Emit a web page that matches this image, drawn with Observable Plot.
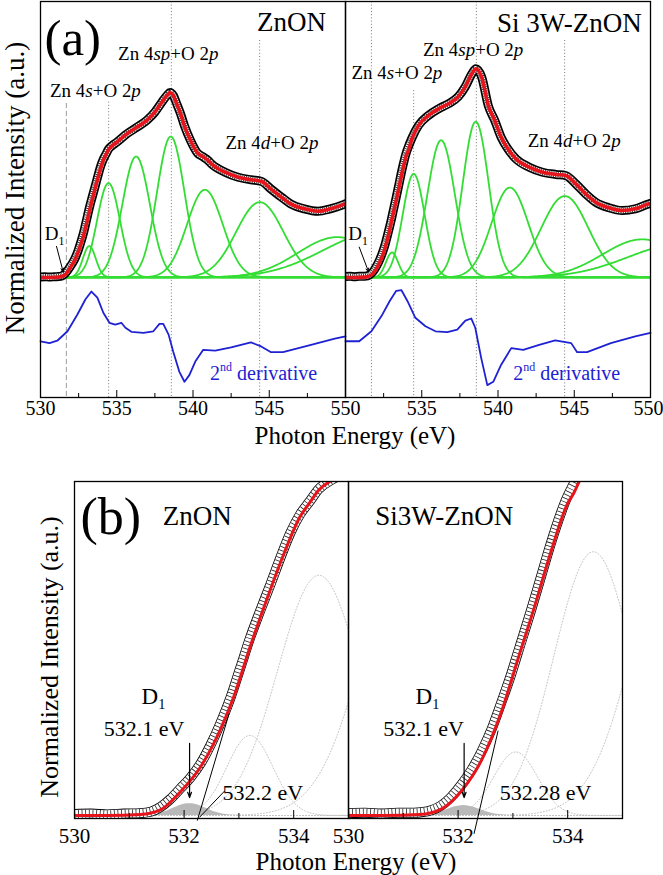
<!DOCTYPE html>
<html><head><meta charset="utf-8">
<script src="https://cdn.jsdelivr.net/npm/d3@7"></script>
<script src="https://cdn.jsdelivr.net/npm/@observablehq/plot@0.6"></script>
<style>
body{margin:0;background:#fff;}
#root{position:relative;width:663px;height:875px;background:#fff;font-family:'Liberation Serif','DejaVu Serif',serif;color:#000;overflow:hidden;}
#root svg, #root svg text{font-family:'Liberation Serif','DejaVu Serif',serif !important;}
.plot{position:absolute;left:0;}
.title{position:absolute;white-space:nowrap;line-height:1;}
</style></head><body><div id="root"></div>
<script>
// ---------- data ----------
const samples = ["ZnON", "Si 3W-ZnON"];

// measured O K-edge spectra (normalized intensity)
const znonEnergy = [530.0,530.3,530.6,530.9,531.2,531.39,531.57,531.75,531.93,532.12,532.3,532.48,532.66,532.85,533.03,533.21,533.39,533.58,533.76,533.94,534.12,534.3,534.45,534.7,535.0,535.67,536.32,536.97,537.5,537.96,538.3,538.5,538.7,538.95,539.18,539.44,539.84,540.3,540.6,541.0,541.2,542.1,542.96,543.8,544.5,545.1,545.8,546.4,547.3,548.2,549.0,549.9,550.0];
const znonIntensity = [0.003,0.004,0.002,0.004,0.005,0.008,0.018,0.035,0.057,0.081,0.110,0.149,0.195,0.251,0.315,0.379,0.435,0.492,0.548,0.600,0.640,0.668,0.692,0.713,0.731,0.777,0.812,0.849,0.894,0.948,0.985,1.000,0.985,0.935,0.886,0.820,0.740,0.672,0.655,0.632,0.615,0.569,0.542,0.528,0.519,0.479,0.434,0.398,0.371,0.358,0.371,0.395,0.398];
const znonFitEnergy = [530.0,530.6,531.2,531.57,531.93,532.3,532.66,532.9,533.21,533.52,533.82,534.12,534.3,534.45,534.7,535.0,535.67,536.32,536.97,537.5,537.96,538.3,538.5,538.7,538.95,539.18,539.44,539.84,540.3,540.6,541.0,541.2,542.1,542.96,543.8,544.5,545.1,545.8,546.4,547.3,548.2,549.0,549.9,550.0];
const znonFitIntensity = [0.0,0.0,0.002,0.012,0.050,0.103,0.182,0.250,0.360,0.462,0.555,0.635,0.665,0.690,0.712,0.731,0.777,0.812,0.849,0.894,0.948,0.985,1.000,0.985,0.935,0.886,0.820,0.740,0.672,0.655,0.632,0.615,0.569,0.542,0.528,0.519,0.479,0.434,0.398,0.371,0.358,0.371,0.395,0.398];

const siEnergy = [530.0,530.3,530.6,530.9,531.2,531.33,531.51,531.69,531.87,532.05,532.24,532.42,532.6,532.78,532.96,533.15,533.33,533.51,533.69,533.87,533.96,534.07,534.36,534.79,535.44,536.1,536.75,537.4,537.84,538.28,538.55,538.93,539.37,539.8,540.2,540.65,541.18,542.05,542.92,543.8,544.44,545.1,545.75,546.4,547.27,548.15,549.0,549.9,550.0];
const siIntensity = [0.005,0.006,0.004,0.006,0.006,0.007,0.011,0.021,0.039,0.064,0.096,0.134,0.180,0.237,0.297,0.368,0.435,0.506,0.577,0.640,0.668,0.695,0.755,0.822,0.876,0.912,0.939,0.978,1.029,1.100,1.128,1.083,0.927,0.846,0.759,0.695,0.641,0.596,0.569,0.557,0.551,0.506,0.452,0.407,0.377,0.362,0.371,0.398,0.400];
const siFitEnergy = [530.0,530.6,531.3,531.7,532.06,532.43,532.79,533.1,533.4,533.7,534.01,534.1,534.36,534.79,535.44,536.1,536.75,537.4,537.84,538.28,538.55,538.93,539.37,539.8,540.2,540.65,541.18,542.05,542.92,543.8,544.44,545.1,545.75,546.4,547.27,548.15,549.0,549.9,550.0];
const siFitIntensity = [0.0,0.0,0.002,0.014,0.052,0.118,0.220,0.335,0.445,0.562,0.665,0.682,0.750,0.822,0.876,0.912,0.939,0.978,1.029,1.100,1.128,1.083,0.927,0.846,0.759,0.695,0.641,0.596,0.569,0.557,0.551,0.506,0.452,0.407,0.377,0.362,0.371,0.398,0.400];

// 2nd derivative traces (offset below the spectra)
const znonDerivEnergy = [530.0,530.59,531.1,531.77,532.42,532.95,533.34,533.73,534.12,534.52,534.9,535.3,535.57,535.96,536.75,537.4,537.8,538.05,538.4,538.7,539.1,539.44,539.76,540.15,540.67,541.46,542.5,543.8,544.47,545.12,545.9,547.74,549.3,550.0];
const znonDerivValue = [-0.345,-0.355,-0.342,-0.291,-0.200,-0.118,-0.076,-0.109,-0.191,-0.245,-0.255,-0.245,-0.272,-0.294,-0.300,-0.291,-0.251,-0.251,-0.309,-0.400,-0.509,-0.564,-0.528,-0.455,-0.391,-0.396,-0.378,-0.351,-0.373,-0.404,-0.404,-0.364,-0.331,-0.318];
const siDerivEnergy = [530.0,530.9,531.7,532.36,532.9,533.33,533.67,534.06,534.58,535.24,535.9,536.68,537.33,537.86,538.25,538.51,538.9,539.3,539.69,540.2,540.87,541.65,542.7,543.75,544.8,545.19,545.84,547.4,549.0,550.0];
const siDerivValue = [-0.345,-0.345,-0.291,-0.209,-0.127,-0.072,-0.069,-0.127,-0.218,-0.264,-0.291,-0.296,-0.282,-0.233,-0.222,-0.272,-0.436,-0.582,-0.564,-0.473,-0.382,-0.391,-0.364,-0.340,-0.355,-0.404,-0.404,-0.355,-0.318,-0.300];

// Gaussian fit components (center eV, height, sigma eV)
const znonPeakCenter = [533.2,534.46,536.27,538.54,540.78,544.38,549.46,552.0];
const znonPeakHeight = [0.17,0.51,0.654,0.762,0.474,0.407,0.218,0.24];
const znonPeakWidth  = [0.42,0.75,0.9,0.9,1.17,1.55,2.6,3.5];
const siPeakCenter = [533.05,534.47,536.27,538.54,540.78,544.38,549.46,552.0];
const siPeakHeight = [0.135,0.56,0.742,0.842,0.486,0.44,0.206,0.18];
const siPeakWidth  = [0.4,0.72,0.9,0.85,1.2,1.55,2.6,3.5];

// D1 defect state component
const d1Center = [532.1, 532.1];
const d1Height = [0.025, 0.021];
const d1Width  = [0.3, 0.3];

// feature energies marked by guide lines
const guideEnergy = [531.7, 534.47, 538.58, 544.37];

// tick values / labels
const ticksAMajor = [530,535,540,545,550];
const ticksAMinor = [532.5,537.5,542.5,547.5];
const ticksALabelsLeft = [530,535,540,545,550];
const ticksALabelsRight = [535,540,545];
const ticksALabelsRightEdge = [550];
const ticksBMajor = [530,532,534];
const ticksBMinor = [531,533];
const ticksBLabels = [530,532,534];

// ---------- helpers ----------
const SERIF = "'Liberation Serif','DejaVu Serif',serif";
const zip = (sample, xs, ys) => xs.map((x, i) => ({sample, x, y: ys[i]}));
const both = vals => samples.flatMap(s => vals.map(x => ({sample: s, x})));

function components(sample, c, h, w, e0, e1) {
  const out = [];
  c.forEach((ck, k) => {
    for (let i = 0; e0 + i * 0.05 <= e1 + 1e-9; i++) {
      const e = e0 + i * 0.05;
      out.push({sample, comp: sample + k, x: e, y: h[k] * Math.exp(-0.5 * ((e - ck) / w[k]) ** 2)});
    }
  });
  return out;
}

const dataRows = [...zip(samples[0], znonEnergy, znonIntensity), ...zip(samples[1], siEnergy, siIntensity)];
const fitRows = [...zip(samples[0], znonFitEnergy, znonFitIntensity), ...zip(samples[1], siFitEnergy, siFitIntensity)];
const derivRows = [...zip(samples[0], znonDerivEnergy, znonDerivValue), ...zip(samples[1], siDerivEnergy, siDerivValue)];
const compRowsA = [
  ...components(samples[0], znonPeakCenter, znonPeakHeight, znonPeakWidth, 530, 552),
  ...components(samples[1], siPeakCenter, siPeakHeight, siPeakWidth, 530, 552)];
const compRowsB = [
  ...components(samples[0], znonPeakCenter, znonPeakHeight, znonPeakWidth, 530, 536),
  ...components(samples[1], siPeakCenter, siPeakHeight, siPeakWidth, 530, 536)];
const d1Rows = samples.flatMap((s, k) =>
  components(s, [d1Center[k]], [d1Height[k]], [d1Width[k]], 531.0, 533.3));

const yA = [-0.649, 1.492];
const yB = [-0.0064, 0.709];

// data drawn as a band of overlapping open circles (outline + ring hatching)
function bandMarks(rows, outer, inner, hatch, dash, clip) {
  return [
    Plot.line(rows, {fx: "sample", x: "x", y: "y", stroke: "#000", strokeWidth: outer, curve: "monotone-x", strokeLinejoin: "round", strokeLinecap: "round", clip}),
    Plot.line(rows, {fx: "sample", x: "x", y: "y", stroke: "#fff", strokeWidth: inner, curve: "monotone-x", strokeLinejoin: "round", strokeLinecap: "round", clip}),
    Plot.line(rows, {fx: "sample", x: "x", y: "y", stroke: hatch, strokeWidth: inner, curve: "monotone-x", strokeDasharray: dash, strokeLinecap: "butt", strokeLinejoin: "miter", clip})
  ];
}

// ---------- panel (a) ----------
const guideRows = [
  {sample: samples[0], x: guideEnergy[0], top: 0.94, dash: true},
  {sample: samples[0], x: guideEnergy[1], top: 0.948},
  {sample: samples[0], x: guideEnergy[2], top: 1.49},
  {sample: samples[0], x: guideEnergy[3], top: 1.281},
  {sample: samples[1], x: guideEnergy[0], top: 1.49},
  {sample: samples[1], x: guideEnergy[1], top: 1.01},
  {sample: samples[1], x: guideEnergy[2], top: 1.49},
  {sample: samples[1], x: guideEnergy[3], top: 1.281}
];

const plotA = Plot.plot({
  width: 663, height: 455,
  marginLeft: 39, marginRight: 13, marginTop: 1, marginBottom: 58,
  fx: {domain: samples, padding: 0, axis: null},
  x: {domain: [530, 550], axis: null},
  y: {domain: yA, axis: null},
  style: {fontFamily: SERIF, fontSize: "20px", background: "transparent", color: "#000"},
  marks: [
    Plot.ruleX(guideRows.filter(d => !d.dash), {fx: "sample", x: "x", y1: "top", y2: yA[0], stroke: "#777", strokeWidth: 1, strokeDasharray: "1,2.2"}),
    Plot.ruleX(guideRows.filter(d => d.dash), {fx: "sample", x: "x", y1: "top", y2: yA[0], stroke: "#aaa", strokeWidth: 1.2, strokeDasharray: "5,3"}),
    Plot.line(compRowsA, {fx: "sample", x: "x", y: "y", z: "comp", stroke: "#33dd33", strokeWidth: 1.8, clip: true}),
    ...bandMarks(dataRows, 9, 5.6, "#333", "1,1.2", true),
    Plot.line(fitRows, {fx: "sample", x: "x", y: "y", stroke: "#e8141c", strokeWidth: 3.6, curve: "monotone-x", clip: true}),
    Plot.line(derivRows, {fx: "sample", x: "x", y: "y", stroke: "#1e22d2", strokeWidth: 1.8, strokeLinejoin: "round"}),
    Plot.frame({stroke: "#000", strokeWidth: 1.3}),
    Plot.ruleX(both(ticksAMajor), {fx: "sample", x: "x", insetTop: 389, stroke: "#000", strokeWidth: 1}),
    Plot.ruleX(both(ticksAMinor), {fx: "sample", x: "x", insetTop: 392, stroke: "#000", strokeWidth: 1}),
    Plot.text([...ticksALabelsLeft.map(x => ({sample: samples[0], x})), ...ticksALabelsRight.map(x => ({sample: samples[1], x}))],
      {fx: "sample", x: "x", text: d => String(d.x), frameAnchor: "bottom", lineAnchor: "top", dy: 3, fontSize: 20, fill: "#000"}),
    Plot.text(ticksALabelsRightEdge.map(x => ({sample: samples[1], x})),
      {fx: "sample", x: "x", text: d => String(d.x), frameAnchor: "bottom", lineAnchor: "top", dy: 3, dx: -2, fontSize: 20, fill: "#000"}),
    Plot.text([{sample: samples[0], x: 530.26, y: 1.205, t: "(a)"}], {fx: "sample", x: "x", y: "y", text: "t", textAnchor: "start", lineAnchor: "bottom", fontSize: 51, fill: "#000"}),
    Plot.text([{sample: samples[0], x: 548.72, y: 1.335, t: "ZnON"}, {sample: samples[1], x: 549.42, y: 1.325, t: "Si 3W-ZnON"}],
      {fx: "sample", x: "x", y: "y", text: "t", textAnchor: "end", lineAnchor: "bottom", fontSize: 27, fill: "#000"}),
    Plot.text([
      {sample: samples[0], x: 538.38, y: 1.178, t: "Zn 4sp+O 2p"},
      {sample: samples[0], x: 533.6, y: 0.978, t: "Zn 4s+O 2p"},
      {sample: samples[0], x: 545.18, y: 0.697, t: "Zn 4d+O 2p"},
      {sample: samples[1], x: 538.37, y: 1.2, t: "Zn 4sp+O 2p"},
      {sample: samples[1], x: 533.37, y: 1.074, t: "Zn 4s+O 2p"},
      {sample: samples[1], x: 545.0, y: 0.704, t: "Zn 4d+O 2p"}
    ], {fx: "sample", x: "x", y: "y", text: "t", lineAnchor: "bottom", fontSize: 19, fill: "#000", stroke: "#fff", strokeWidth: 3, paintOrder: "stroke"}),
    Plot.text([{sample: samples[0], x: 530.92, y: 0.2, t: "D1"}, {sample: samples[1], x: 530.82, y: 0.2, t: "D1"}],
      {fx: "sample", x: "x", y: "y", text: "t", lineAnchor: "bottom", fontSize: 19, fill: "#000"}),
    Plot.arrow([{sample: samples[0], x1: 531.05, y1: 0.168, x2: 531.49, y2: 0.029}, {sample: samples[1], x1: 530.9, y1: 0.164, x2: 531.52, y2: 0.029}],
      {fx: "sample", x1: "x1", y1: "y1", x2: "x2", y2: "y2", stroke: "#000", strokeWidth: 1, headLength: 6, headAngle: 40}),
    Plot.text([{sample: samples[0], x: 544.63, y: -0.557, t: "2nd derivative"}, {sample: samples[1], x: 544.5, y: -0.557, t: "2nd derivative"}],
      {fx: "sample", x: "x", y: "y", text: "t", lineAnchor: "bottom", fontSize: 20, fill: "#1e22d2"})
  ]
});

// ---------- panel (b) ----------
const plotB = Plot.plot({
  width: 663, height: 405,
  marginLeft: 74, marginRight: 41, marginTop: 11, marginBottom: 57,
  fx: {domain: samples, padding: 0, axis: null},
  x: {domain: [530, 535], axis: null},
  y: {domain: yB, axis: null},
  style: {fontFamily: SERIF, fontSize: "21px", background: "transparent", color: "#000"},
  marks: [
    Plot.line(compRowsB, {fx: "sample", x: "x", y: "y", z: "comp", stroke: "#c4c4c4", strokeWidth: 1, strokeDasharray: "1,2", clip: true}),
    Plot.areaY(d1Rows, {fx: "sample", x: "x", y: "y", fill: "#b9b9b9", clip: true}),
    ...bandMarks(dataRows, 10, 8.4, "#222", "0.8,2.8", true),
    Plot.line(fitRows, {fx: "sample", x: "x", y: "y", stroke: "#e8141c", strokeWidth: 3, curve: "monotone-x", clip: true}),
    Plot.frame({stroke: "#000", strokeWidth: 1.3}),
    Plot.ruleX(both(ticksBMajor), {fx: "sample", x: "x", insetTop: 329, stroke: "#000", strokeWidth: 1}),
    Plot.ruleX(both(ticksBMinor), {fx: "sample", x: "x", insetTop: 332, stroke: "#000", strokeWidth: 1}),
    Plot.text(both(ticksBLabels), {fx: "sample", x: "x", text: d => String(d.x), frameAnchor: "bottom", lineAnchor: "top", dy: 10, fontSize: 21, fill: "#000"}),
    Plot.text([{sample: samples[0], x: 530.11, y: 0.597, t: "(b)"}], {fx: "sample", x: "x", y: "y", text: "t", textAnchor: "start", lineAnchor: "bottom", fontSize: 52, fill: "#000"}),
    Plot.text([{sample: samples[0], x: 531.61, y: 0.616, t: "ZnON"}, {sample: samples[1], x: 530.49, y: 0.616, t: "Si3W-ZnON"}],
      {fx: "sample", x: "x", y: "y", text: "t", textAnchor: "start", lineAnchor: "bottom", fontSize: 27, fill: "#000"}),
    Plot.text([{sample: samples[0], x: 531.44, y: 0.236, t: "D1"}, {sample: samples[1], x: 531.44, y: 0.236, t: "D1"}],
      {fx: "sample", x: "x", y: "y", text: "t", lineAnchor: "bottom", fontSize: 23, fill: "#000"}),
    Plot.text([{sample: samples[0], x: 531.27, y: 0.168, t: "532.1 eV"}, {sample: samples[1], x: 531.37, y: 0.168, t: "532.1 eV"}],
      {fx: "sample", x: "x", y: "y", text: "t", lineAnchor: "bottom", fontSize: 22, fill: "#000"}),
    Plot.text([{sample: samples[0], x: 532.7, y: 0.032, t: "532.2 eV"}, {sample: samples[1], x: 532.76, y: 0.032, t: "532.28 eV"}],
      {fx: "sample", x: "x", y: "y", text: "t", textAnchor: "start", lineAnchor: "bottom", fontSize: 22, fill: "#000"}),
    Plot.arrow([{sample: samples[0], x1: 532.1, y1: 0.153, x2: 532.1, y2: 0.038}, {sample: samples[1], x1: 532.11, y1: 0.153, x2: 532.11, y2: 0.038}],
      {fx: "sample", x1: "x1", y1: "y1", x2: "x2", y2: "y2", stroke: "#000", strokeWidth: 1.2, headLength: 7, headAngle: 40}),
    Plot.link([
      {sample: samples[0], x1: 532.82, y1: 0.216, x2: 532.24, y2: -0.011},
      {sample: samples[0], x1: 532.74, y1: 0.052, x2: 532.28, y2: -0.004},
      {sample: samples[1], x1: 532.73, y1: 0.18, x2: 532.29, y2: -0.039}
    ], {fx: "sample", x1: "x1", y1: "y1", x2: "x2", y2: "y2", stroke: "#000", strokeWidth: 1})
  ]
});

// rich text formatting (italics, sub/superscripts)
function richText(svg) {
  svg.querySelectorAll("text").forEach(t => {
    const s = t.textContent;
    if (s === "Zn 4sp+O 2p") t.innerHTML = 'Zn 4<tspan font-style="italic">sp</tspan>+O 2<tspan font-style="italic">p</tspan>';
    else if (s === "Zn 4s+O 2p") t.innerHTML = 'Zn 4<tspan font-style="italic">s</tspan>+O 2<tspan font-style="italic">p</tspan>';
    else if (s === "Zn 4d+O 2p") t.innerHTML = 'Zn 4<tspan font-style="italic">d</tspan>+O 2<tspan font-style="italic">p</tspan>';
    else if (s === "2nd derivative") t.innerHTML = '2<tspan dy="-0.75em" font-size="0.6em">nd</tspan><tspan dy="0.45em"> derivative</tspan>';
    else if (s === "D1") t.innerHTML = 'D<tspan dy="0.35em" font-size="0.62em">1</tspan>';
  });
}
richText(plotA); richText(plotB);

const root = document.getElementById("root");
plotA.classList.add("plot"); plotA.style.top = "0px";
plotB.classList.add("plot"); plotB.style.top = "470px";
root.appendChild(plotA); root.appendChild(plotB);

function title(text, left, top, size, rotate) {
  const d = document.createElement("div");
  d.className = "title";
  d.textContent = text;
  d.style.fontSize = size + "px";
  d.style.left = left + "px";
  d.style.top = top + "px";
  d.style.transform = rotate ? "translate(-50%,-50%) rotate(-90deg)" : "translate(-50%,-50%)";
  root.appendChild(d);
}
title("Normalized Intensity (a.u.)", 15, 188, 27, true);
title("Photon Energy (eV)", 355, 435, 25, false);
title("Normalized Intensity (a.u.)", 50, 657, 26, true);
title("Photon Energy (eV)", 356, 861, 25, false);
</script></body></html>
